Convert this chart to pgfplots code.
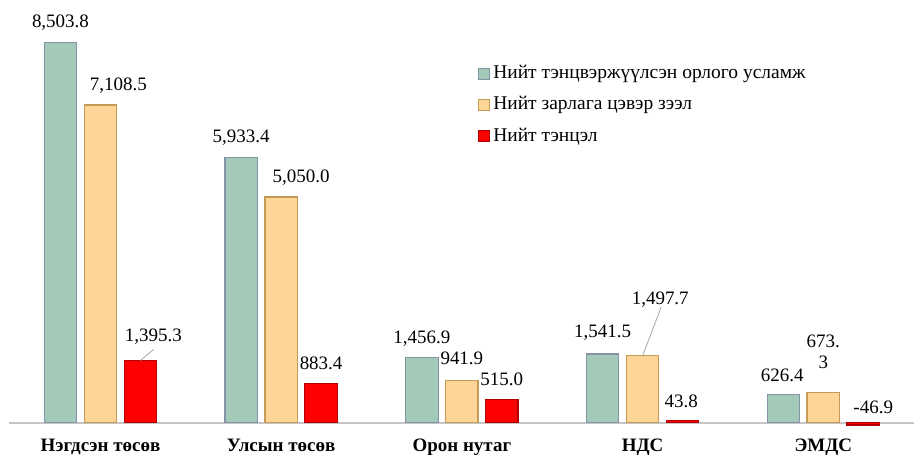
\documentclass[border=0pt]{standalone}
\usepackage{pgfplots}
\pgfplotsset{compat=1.18}
\usepackage{pgfplotstable}
\usepackage{fontspec}
\setmainfont{Liberation Serif}
\definecolor{cg}{HTML}{A3C9B8}
\definecolor{cgd}{HTML}{8494A6}
\definecolor{co}{HTML}{FDD597}
\definecolor{cod}{HTML}{C49A55}
\definecolor{cr}{HTML}{FF0000}
\definecolor{crd}{HTML}{B00000}

\pgfplotstableread{
x y dx dy lab
0 8503.8 0 9.75 8,503.8
1 5933.4 0 9.75 5,933.4
2 1456.9 0 9.5 1,456.9
3 1541.5 0 10.5 1,541.5
4 626.4 -0.5 9.6 626.4
}\tgreen
\pgfplotstableread{
x y dx dy lab
0 7108.5 9 9.65 7,108.5
1 5050.0 10 9.65 5,050.0
2 941.9 0 11.3 941.9
3 1497.7 8.85 28.3 1,497.7
4 673.3 0 20.5 673.\\3
}\torange
\pgfplotstableread{
x y dx dy lab
0 1395.3 6.5 12 1,395.3
1 883.4 0 10.15 883.4
2 515.0 0 10.5 515.0
3 43.8 -0.65 10 43.8
4 -46.9 5 8.9 -46.9
}\tred

\begin{document}
\begin{tikzpicture}
\begin{axis}[name=ax, scale only axis, width=453pt, height=203.5pt,
  xmin=-0.506, xmax=4.502, ymin=-306, ymax=8787,
  axis x line=middle, axis y line=none,
  x axis line style={-, draw=gray!45, line width=1pt},
  hide obscured x ticks=false,
  xtick={0,1,2,3,4},
  xticklabels={Нэгдсэн төсөв, Улсын төсөв, Орон нутаг, НДС, ЭМДС},
  major tick length=0pt,
  xticklabel style={font=\fontsize{9.5}{11}\selectfont\bfseries, anchor=base, yshift=-14.3pt},
  ytick=\empty,
  clip=false,
  ybar, bar width=16.25pt,
  point meta=explicit symbolic,
  nodes near coords,
  visualization depends on={\thisrow{dx}\as\dx},
  visualization depends on={\thisrow{dy}\as\dy},
  every node near coord/.append style={anchor=center, xshift=\dx pt, yshift=\dy pt,
     font=\fontsize{9.5}{10.5}\selectfont, align=center, text=black},
  legend style={at={(rel axis cs:0.5177,0.8157)}, anchor=west, draw=none, fill=none,
     font=\fontsize{9.75}{11}\selectfont, row sep=3.6pt, inner sep=0pt,
     nodes={text height=7pt, text depth=2pt, inner xsep=1.6pt, inner ysep=1.5pt}},
  legend cell align=left,
]
\addplot[ybar, bar shift=-20pt, fill=cg, draw=cgd, line width=0.6pt,
  legend image code/.code={\draw[fill=cg, draw=cgd, line width=0.6pt] (0pt,-2.75pt) rectangle (5.5pt,2.75pt);}]
  table[x=x, y=y, meta=lab] {\tgreen};
\addlegendentry{Нийт тэнцвэржүүлсэн орлого усламж}
\addplot[ybar, bar shift=0pt, fill=co, draw=cod, line width=0.6pt,
  legend image code/.code={\draw[fill=co, draw=cod, line width=0.6pt] (0pt,-2.75pt) rectangle (5.5pt,2.75pt);}]
  table[x=x, y=y, meta=lab] {\torange};
\addlegendentry{Нийт зарлага цэвэр зээл}
\addplot[ybar, bar shift=20pt, fill=cr, draw=crd, line width=0.6pt,
  legend image code/.code={\draw[fill=cr, draw=crd, line width=0.6pt] (0pt,-2.75pt) rectangle (5.5pt,2.75pt);}]
  table[x=x, y=y, meta=lab] {\tred};
\addlegendentry{Нийт тэнцэл}
\draw[gray!70, line width=0.4pt] (axis cs:3,1497.7) -- ([xshift=9.35pt, yshift=24.5pt]axis cs:3,1497.7);
\draw[gray!70, line width=0.4pt] ([xshift=20pt]axis cs:0,1395.3) -- ([xshift=26.65pt, yshift=5.5pt]axis cs:0,1395.3);
\end{axis}
\pgfresetboundingbox
\path[use as bounding box] ([xshift=-4.5pt, yshift=-9pt]ax.south west) rectangle ([yshift=15pt]ax.north east);
\end{tikzpicture}
\end{document}
